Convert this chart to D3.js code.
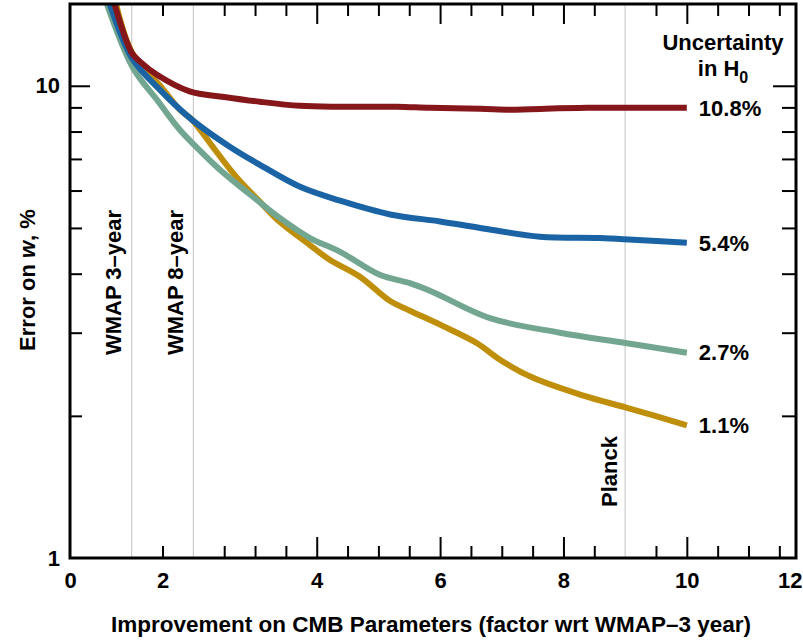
<!DOCTYPE html>
<html>
<head>
<meta charset="utf-8">
<script src="https://cdn.jsdelivr.net/npm/d3@7"></script>
<style>
  body { margin: 0; background: #fff; }
  text { font-family: "Liberation Sans", Arial, Helvetica, sans-serif; font-weight: bold; fill: #000; }
</style>
</head>
<body>
<div id="chart"></div>
<script>
var width = 803,
    height = 640,
    plot = {left: 70, right: 796, top: 4, bottom: 558};

// x tick labels on the original axis sit at odd places, keep them as drawn
var xTickVals   = [0, 1.5, 4, 6, 8, 10, 11.67];
var xTickLabels = ["0", "2", "4", "6", "8", "10", "12"];
var xMajor = [4, 6, 8, 10];
var xMinor = [1.5, 2.5, 3, 3.5, 4.5, 5, 5.5, 6.5, 7, 7.5, 8.5, 9.5, 10.5, 11, 11.5];
var yMajor = [1, 10];
var yMinor = [2, 3, 4, 5, 6, 7, 8, 9];

var markers = [1, 2, 9];   // WMAP 3-year, WMAP 8-year, Planck
var markerNames = ["WMAP 3\u2013year", "WMAP 8\u2013year", "Planck"];

// Error on w (%) vs improvement factor, one curve per H0 prior
var redX   = [0.69, 1.0, 1.135, 1.41, 1.94, 2.5, 3.08, 3.73, 4.38, 5.3, 5.84, 6.65, 7.13, 7.46, 8.38, 10.0];
var redY   = [15.4, 11.75, 11.25, 10.55, 9.73, 9.47, 9.25, 9.07, 9.03, 9.03, 8.98, 8.94, 8.90, 8.92, 8.98, 8.98];
var blueX  = [0.61, 1.0, 1.49, 1.98, 2.59, 3.08, 3.73, 4.38, 5.19, 6.0, 6.65, 7.62, 8.59, 9.13, 10.0];
var blueY  = [15.4, 11.47, 9.71, 8.47, 7.43, 6.80, 6.11, 5.71, 5.34, 5.16, 5.00, 4.79, 4.76, 4.72, 4.65];
var greenX = [0.56, 1.02, 1.41, 1.78, 2.06, 2.43, 3.03, 3.40, 3.89, 4.38, 5.02, 5.51, 5.88, 6.81, 7.94, 9.03, 10.0];
var greenY = [15.4, 10.92, 9.34, 8.07, 7.39, 6.64, 5.73, 5.25, 4.76, 4.45, 3.98, 3.82, 3.66, 3.22, 3.00, 2.85, 2.72];
var goldX  = [0.72, 1.0, 1.49, 1.78, 1.98, 2.35, 2.71, 3.08, 3.40, 3.89, 4.21, 4.70, 5.19, 5.51, 6.0, 6.60, 6.97, 7.50, 8.31, 9.03, 10.0];
var goldY  = [15.4, 11.8, 9.90, 8.90, 8.47, 7.32, 6.38, 5.68, 5.15, 4.60, 4.28, 3.94, 3.50, 3.34, 3.12, 2.85, 2.63, 2.41, 2.21, 2.08, 1.91];

var seriesNames  = ["1.1%", "2.7%", "5.4%", "10.8%"];
var seriesColors = ["#bf8e0a", "#72a690", "#1a63a5", "#85171a"];
var seriesX = [goldX, greenX, blueX, redX];
var seriesY = [goldY, greenY, blueY, redY];

var svg = d3.select("#chart")
    .append("svg")
    .attr("width", width)
    .attr("height", height);

var x = d3.scaleLinear()
    .domain([0, 11.77])
    .range([plot.left, plot.right]);

var y = d3.scaleLog()
    .domain([1, 14.9])
    .range([plot.bottom, plot.top]);

// gray marker lines
svg.selectAll(".marker")
    .data(markers)
    .enter()
    .append("line")
    .attr("x1", function(d){ return x(d); })
    .attr("x2", function(d){ return x(d); })
    .attr("y1", plot.top)
    .attr("y2", plot.bottom)
    .attr("stroke", "#cccccc")
    .attr("stroke-width", 1.2);

// axes: labels from d3 axes, ticks pointing inward
svg.append("g")
    .attr("transform", `translate(0,${plot.bottom})`)
    .call(d3.axisBottom(x).tickValues(xTickVals).tickSize(0).tickPadding(14)
        .tickFormat(function(d, i){ return xTickLabels[i]; }))
    .call(function(g){ g.select(".domain").remove(); })
    .selectAll("text")
    .style("font-size", "22px");

svg.append("g")
    .attr("transform", `translate(${plot.left},0)`)
    .call(d3.axisLeft(y).tickValues(yMajor).tickSize(0).tickPadding(10)
        .tickFormat(d3.format("d")))
    .call(function(g){ g.select(".domain").remove(); })
    .selectAll("text")
    .style("font-size", "22px");

function tickAxis(axis, vals, size, transform) {
    svg.append("g")
        .attr("transform", transform)
        .call(axis.tickValues(vals).tickSize(size).tickFormat(""))
        .call(function(g){ g.select(".domain").remove(); })
        .selectAll("line")
        .attr("stroke", "#000")
        .attr("stroke-width", 2);
}
tickAxis(d3.axisBottom(x), xMinor, -12, `translate(0,${plot.bottom})`);
tickAxis(d3.axisBottom(x), xMajor, -21, `translate(0,${plot.bottom})`);
tickAxis(d3.axisTop(x), xMinor, -12, `translate(0,${plot.top})`);
tickAxis(d3.axisTop(x), xMajor, -20, `translate(0,${plot.top})`);
tickAxis(d3.axisLeft(y), yMinor, -12, `translate(${plot.left},0)`);
tickAxis(d3.axisLeft(y), [10], -20, `translate(${plot.left},0)`);
tickAxis(d3.axisRight(y), yMinor, -14, `translate(${plot.right},0)`);
tickAxis(d3.axisRight(y), [10], -23, `translate(${plot.right},0)`);

// curves
svg.append("defs").append("clipPath")
    .attr("id", "clip")
    .append("rect")
    .attr("x", plot.left)
    .attr("y", plot.top)
    .attr("width", plot.right - plot.left)
    .attr("height", plot.bottom - plot.top);

var line = d3.line()
    .x(function(d){ return x(d[0]); })
    .y(function(d){ return y(d[1]); })
    .curve(d3.curveCatmullRom.alpha(0.5));

var curves = svg.append("g").attr("clip-path", "url(#clip)");
seriesX.forEach(function(xs, i){
    var pts = xs.map(function(v, j){ return [v, seriesY[i][j]]; });
    curves.append("path")
        .datum(pts)
        .attr("fill", "none")
        .attr("stroke", seriesColors[i])
        .attr("stroke-width", 6)
        .attr("stroke-linejoin", "round")
        .attr("d", line);
});

// end labels
seriesNames.forEach(function(name, i){
    var xs = seriesX[i], ys = seriesY[i];
    svg.append("text")
        .attr("x", x(xs[xs.length - 1]) + 12)
        .attr("y", y(ys[ys.length - 1]))
        .attr("dy", "0.35em")
        .style("font-size", "22px")
        .text(name);
});

svg.append("text")
    .attr("x", 723)
    .attr("y", 50)
    .attr("text-anchor", "middle")
    .style("font-size", "22px")
    .text("Uncertainty");

var inH = svg.append("text")
    .attr("x", 723)
    .attr("y", 76)
    .attr("text-anchor", "middle")
    .style("font-size", "22px");
inH.append("tspan").text("in H");
inH.append("tspan").attr("dy", 7).style("font-size", "16px").text("0");

// marker labels
var markerBase = [121, 183, 617];
var markerBottom = [355, 355, 507];
markerNames.forEach(function(name, i){
    svg.append("text")
        .attr("transform", `translate(${markerBase[i]},${markerBottom[i]}) rotate(-90)`)
        .style("font-size", "22px")
        .text(name);
});

// axis titles
svg.append("text")
    .attr("x", 431)
    .attr("y", 632)
    .attr("text-anchor", "middle")
    .style("font-size", "22.5px")
    .text("Improvement on CMB Parameters (factor wrt WMAP\u20133 year)");

var yTitle = svg.append("text")
    .attr("transform", "translate(35,280) rotate(-90)")
    .attr("text-anchor", "middle")
    .style("font-size", "22px");
yTitle.append("tspan").text("Error on ");
yTitle.append("tspan").style("font-style", "italic").text("w");
yTitle.append("tspan").text(", %");

// frame
svg.append("rect")
    .attr("x", plot.left)
    .attr("y", plot.top)
    .attr("width", plot.right - plot.left)
    .attr("height", plot.bottom - plot.top)
    .attr("fill", "none")
    .attr("stroke", "#000")
    .attr("stroke-width", 3);
</script>
</body>
</html>
